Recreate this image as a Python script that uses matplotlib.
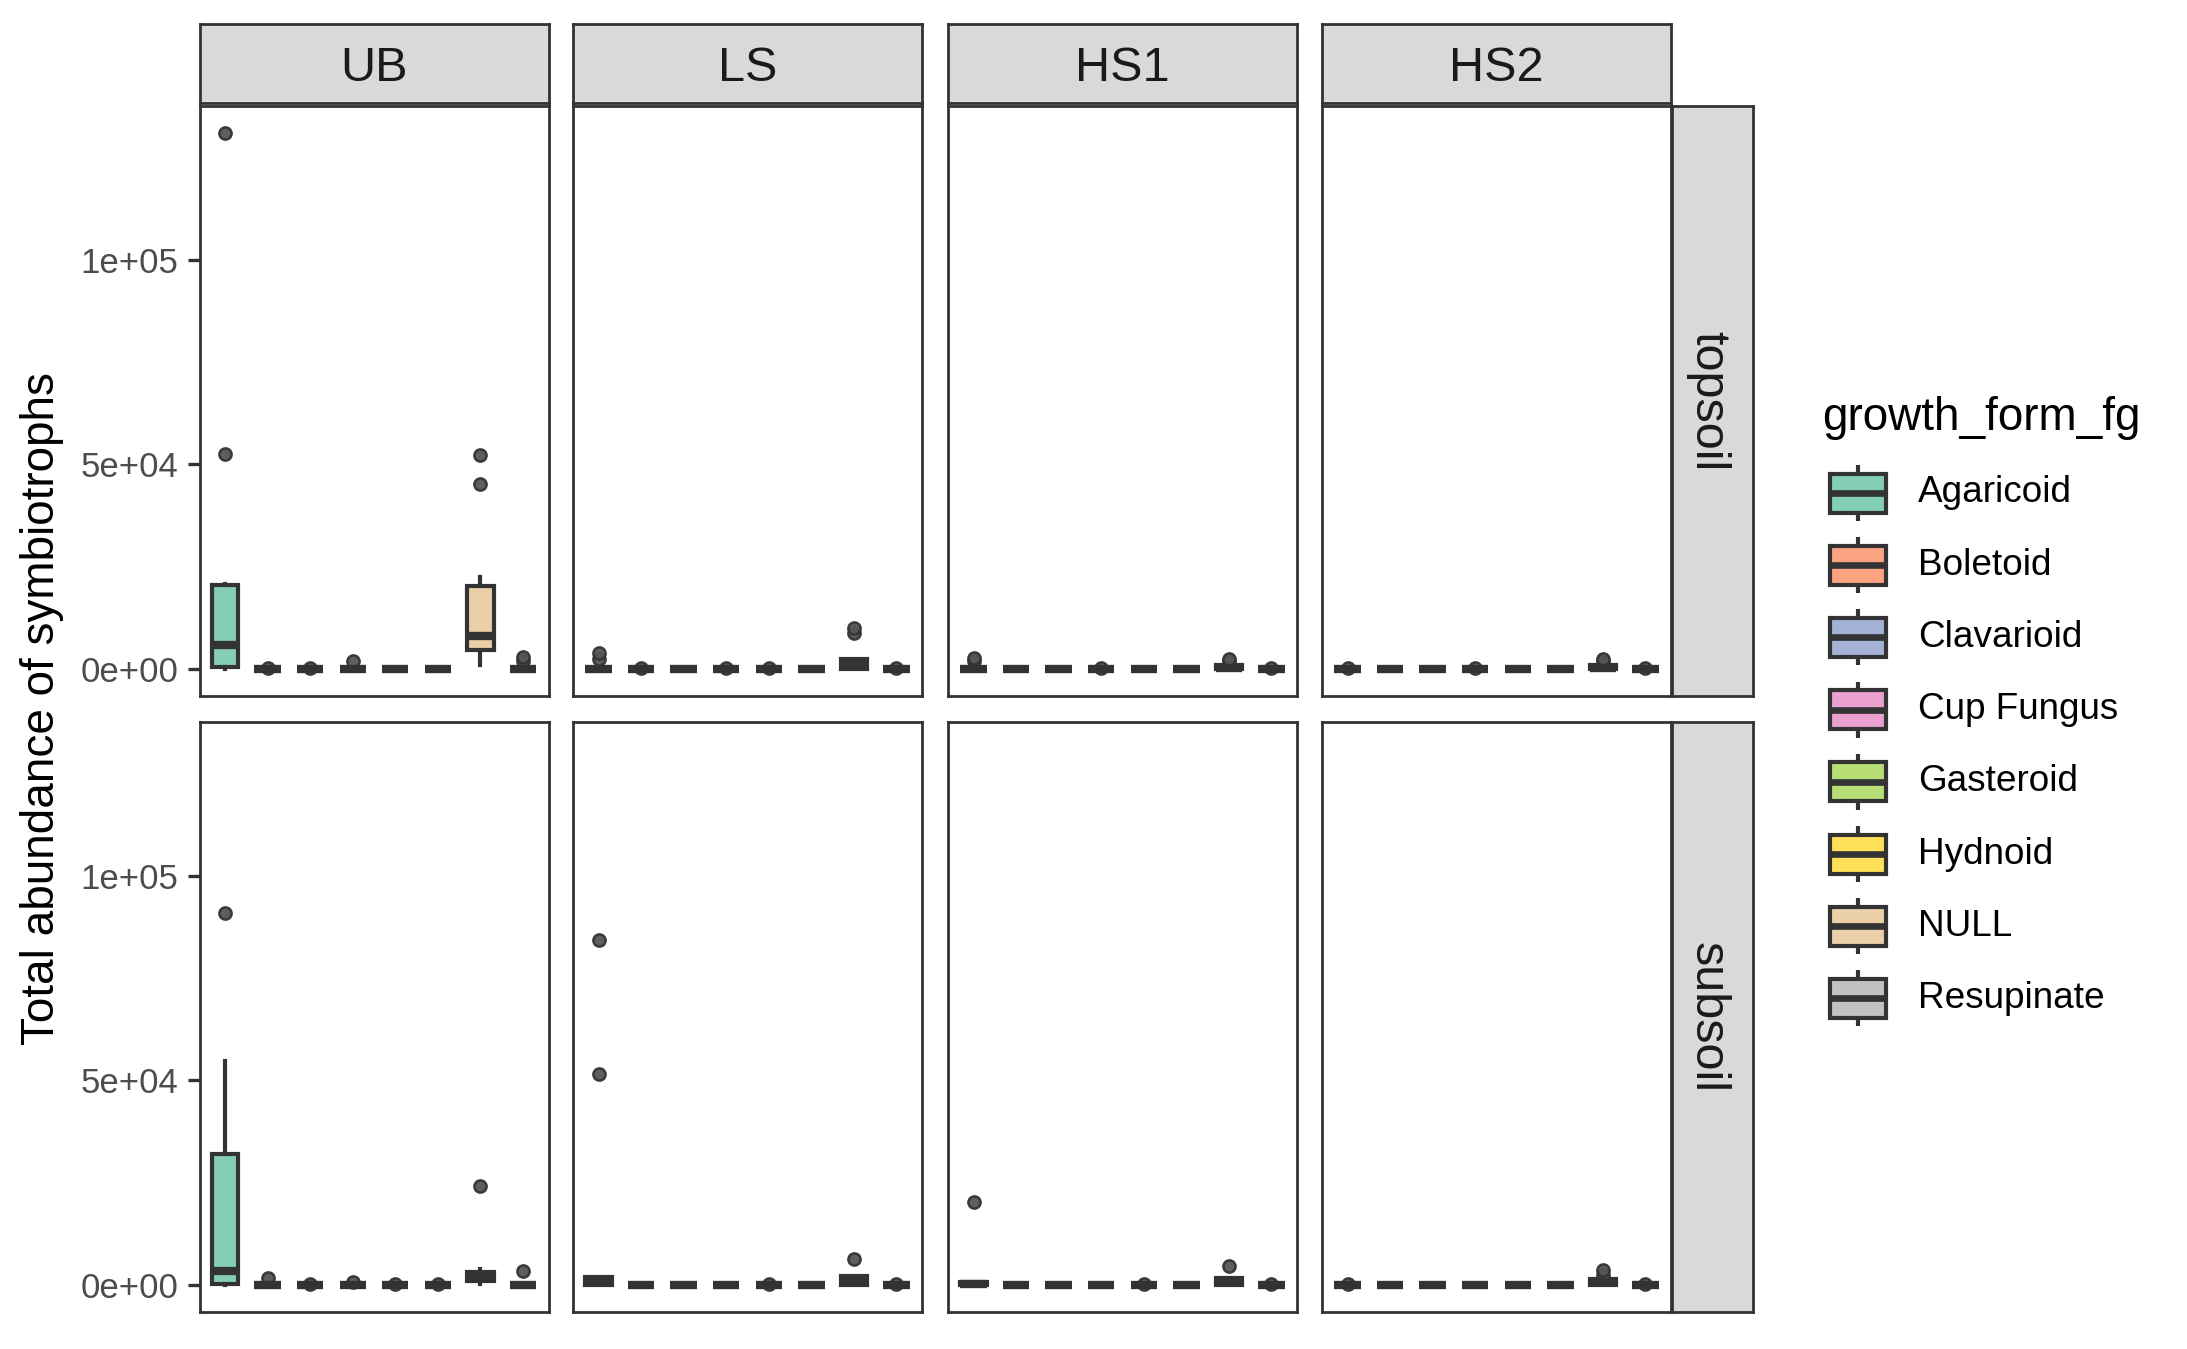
import matplotlib
matplotlib.use("Agg")
import matplotlib.pyplot as plt
from matplotlib.patches import Rectangle

plt.rcParams['font.family'] = ['Liberation Sans', 'DejaVu Sans']

forms = ["Agaricoid", "Boletoid", "Clavarioid", "Cup Fungus",
         "Gasteroid", "Hydnoid", "NULL", "Resupinate"]
sites = ["UB", "LS", "HS1", "HS2"]
layers = ["topsoil", "subsoil"]
fills = ["#66C2A5", "#FC8D62", "#8DA0CB", "#E78AC3",
         "#A6D854", "#FFD92F", "#E5C494", "#B3B3B3"]

# per growth form: lower whisker, q1, median, q3, upper whisker
top_UB = [[0, 650, 5850, 20500, 20800], [0, 0, 0, 0, 0], [0, 0, 0, 0, 0], [0, 0, 0, 0, 0],
          [0, 0, 0, 0, 0], [0, 0, 0, 0, 0], [1000, 4700, 8200, 20250, 22600], [0, 0, 0, 0, 0]]
top_UB_out = [[131000, 52600], [300], [300], [1950], [], [], [52200, 45300], [2100, 3000]]

top_LS = [[0, 0, 0, 0, 0], [0, 0, 0, 0, 0], [0, 0, 0, 0, 0], [0, 0, 0, 0, 0],
          [0, 0, 0, 0, 0], [0, 0, 0, 0, 0], [0, 0, 900, 2500, 2500], [0, 0, 0, 0, 0]]
top_LS_out = [[2500, 3900], [300], [], [300], [300], [], [8800, 10000], [300]]

top_HS1 = [[0, 0, 0, 0, 0], [0, 0, 0, 0, 0], [0, 0, 0, 0, 0], [0, 0, 0, 0, 0],
           [0, 0, 0, 0, 0], [0, 0, 0, 0, 0], [0, 0, 300, 1000, 1000], [0, 0, 0, 0, 0]]
top_HS1_out = [[1900, 2700], [], [], [300], [], [], [2000, 2600], [300]]

top_HS2 = [[0, 0, 0, 0, 0], [0, 0, 0, 0, 0], [0, 0, 0, 0, 0], [0, 0, 0, 0, 0],
           [0, 0, 0, 0, 0], [0, 0, 0, 0, 0], [0, 0, 300, 1000, 1000], [0, 0, 0, 0, 0]]
top_HS2_out = [[300], [], [], [300], [], [], [2000, 2600], [300]]

sub_UB = [[0, 370, 3540, 32000, 54700], [0, 0, 0, 0, 0], [0, 0, 0, 0, 0], [0, 0, 0, 0, 0],
          [0, 0, 0, 0, 0], [0, 0, 0, 0, 0], [300, 930, 2100, 3200, 4000], [0, 0, 0, 0, 0]]
sub_UB_out = [[91000], [1700], [300], [700], [300], [300], [24300], [3500]]

sub_LS = [[0, 0, 800, 1900, 1900], [0, 0, 0, 0, 0], [0, 0, 0, 0, 0], [0, 0, 0, 0, 0],
          [0, 0, 0, 0, 0], [0, 0, 0, 0, 0], [0, 0, 1000, 2200, 2200], [0, 0, 0, 0, 0]]
sub_LS_out = [[84300, 51700], [], [], [], [300], [], [6500], [300]]

sub_HS1 = [[0, 0, 200, 700, 700], [0, 0, 0, 0, 0], [0, 0, 0, 0, 0], [0, 0, 0, 0, 0],
           [0, 0, 0, 0, 0], [0, 0, 0, 0, 0], [0, 0, 800, 1800, 1800], [0, 0, 0, 0, 0]]
sub_HS1_out = [[20300], [], [], [], [300], [], [4700], [300]]

sub_HS2 = [[0, 0, 0, 0, 0], [0, 0, 0, 0, 0], [0, 0, 0, 0, 0], [0, 0, 0, 0, 0],
           [0, 0, 0, 0, 0], [0, 0, 0, 0, 0], [0, 0, 700, 1500, 1500], [0, 0, 0, 0, 0]]
sub_HS2_out = [[400], [], [], [], [], [], [2600, 3700], [300]]

yticks = [0, 50000, 100000]
ytick_labels = ["0e+00", "5e+04", "1e+05"]

panels = {
    ("topsoil", "UB"): (top_UB, top_UB_out), ("topsoil", "LS"): (top_LS, top_LS_out),
    ("topsoil", "HS1"): (top_HS1, top_HS1_out), ("topsoil", "HS2"): (top_HS2, top_HS2_out),
    ("subsoil", "UB"): (sub_UB, sub_UB_out), ("subsoil", "LS"): (sub_LS, sub_LS_out),
    ("subsoil", "HS1"): (sub_HS1, sub_HS1_out), ("subsoil", "HS2"): (sub_HS2, sub_HS2_out),
}

# shared y range, ggplot style 5% expansion
allv = []
for five, outs in panels.values():
    for r in five:
        allv += r
    for o in outs:
        allv += o
vmin, vmax = min(allv), max(allv)
span = vmax - vmin
ylim = (vmin - 0.05 * span, vmax + 0.05 * span)

W, H = 2187, 1349
fig = plt.figure(figsize=(W / 200, H / 200), dpi=200)


def rect(x0, y0, x1, y1):
    return [x0 / W, 1 - y1 / H, (x1 - x0) / W, (y1 - y0) / H]


grey20 = "#333333"
LW = 1.5
panel_x = [199.5, 573, 948, 1322]
panel_w = 349
row_y = [(106, 696), (722, 1312)]

for i, layer in enumerate(layers):
    for j, site in enumerate(sites):
        five, outs = panels[(layer, site)]
        x0 = panel_x[j]
        y0, y1 = row_y[i]
        ax = fig.add_axes(rect(x0, y0, x0 + panel_w, y1))
        stats = []
        for k in range(len(forms)):
            lo, q1, med, q3, hi = five[k]
            stats.append(dict(whislo=lo, q1=q1, med=med, q3=q3, whishi=hi, fliers=outs[k]))
        bp = ax.bxp(stats, positions=range(1, 9), widths=0.62, patch_artist=True,
                    showcaps=False,
                    boxprops=dict(edgecolor=grey20, linewidth=LW),
                    whiskerprops=dict(color=grey20, linewidth=LW),
                    medianprops=dict(color=grey20, linewidth=2 * LW, solid_capstyle='butt'),
                    flierprops=dict(marker='o', markersize=4.4, markerfacecolor='#555555',
                                    markeredgecolor=grey20, markeredgewidth=0.9, alpha=0.95))
        for patch, c in zip(bp['boxes'], fills):
            patch.set_facecolor(matplotlib.colors.to_rgba(c, 0.8))
        ax.set_xlim(0.4, 8.6)
        ax.set_ylim(*ylim)
        ax.set_xticks([])
        ax.set_yticks(yticks)
        for s in ax.spines.values():
            s.set_color(grey20)
            s.set_linewidth(1.0)
        if j == 0:
            ax.set_yticklabels(ytick_labels, fontsize=12.5, color="#4D4D4D")
            ax.tick_params(axis='y', length=4.5, width=1.2, color=grey20, pad=3)
        else:
            ax.tick_params(axis='y', length=0, labelleft=False)
        # top strips
        if i == 0:
            sax = fig.add_axes(rect(x0, 24, x0 + panel_w, 103))
            sax.set_facecolor("#D9D9D9")
            sax.set_xticks([]); sax.set_yticks([])
            for s in sax.spines.values():
                s.set_color(grey20); s.set_linewidth(1.0)
            sax.text(0.5, 0.44, site, ha='center', va='center', fontsize=17.5,
                     color="#1A1A1A", transform=sax.transAxes)
    # right strips
    y0, y1 = row_y[i]
    rax = fig.add_axes(rect(1672, y0, 1753, y1))
    rax.set_facecolor("#D9D9D9")
    rax.set_xticks([]); rax.set_yticks([])
    for s in rax.spines.values():
        s.set_color(grey20); s.set_linewidth(1.0)
    rax.text(0.44, 0.5, layer, ha='center', va='center', fontsize=17.5, rotation=-90,
             color="#1A1A1A", transform=rax.transAxes)

fig.text(42 / W, 1 - 709 / H, "Total abundance of symbiotrophs", rotation=90,
         ha='center', va='center', fontsize=16.5, color="black")

# legend
lax = fig.add_axes([0, 0, 1, 1])
lax.set_xlim(0, W)
lax.set_ylim(H, 0)
lax.axis('off')
lax.text(1822, 418, "growth_form_fg", ha='left', va='center', fontsize=16.5, color="black")
for k, (name, c) in enumerate(zip(forms, fills)):
    cy = 493 + 72.2 * k
    lax.plot([1858, 1858], [cy - 28, cy - 19.5], color=grey20, lw=LW, solid_capstyle='butt')
    lax.plot([1858, 1858], [cy + 19.5, cy + 28], color=grey20, lw=LW, solid_capstyle='butt')
    lax.add_patch(Rectangle((1830, cy - 19.5), 56, 39, facecolor=matplotlib.colors.to_rgba(c, 0.8),
                            edgecolor=grey20, lw=LW))
    lax.plot([1830, 1886], [cy, cy], color=grey20, lw=LW * 1.6, solid_capstyle='butt')
    lax.text(1918, cy, name, ha='left', va='center', fontsize=13.3, color="black")

fig.savefig("out.png", dpi=200)
